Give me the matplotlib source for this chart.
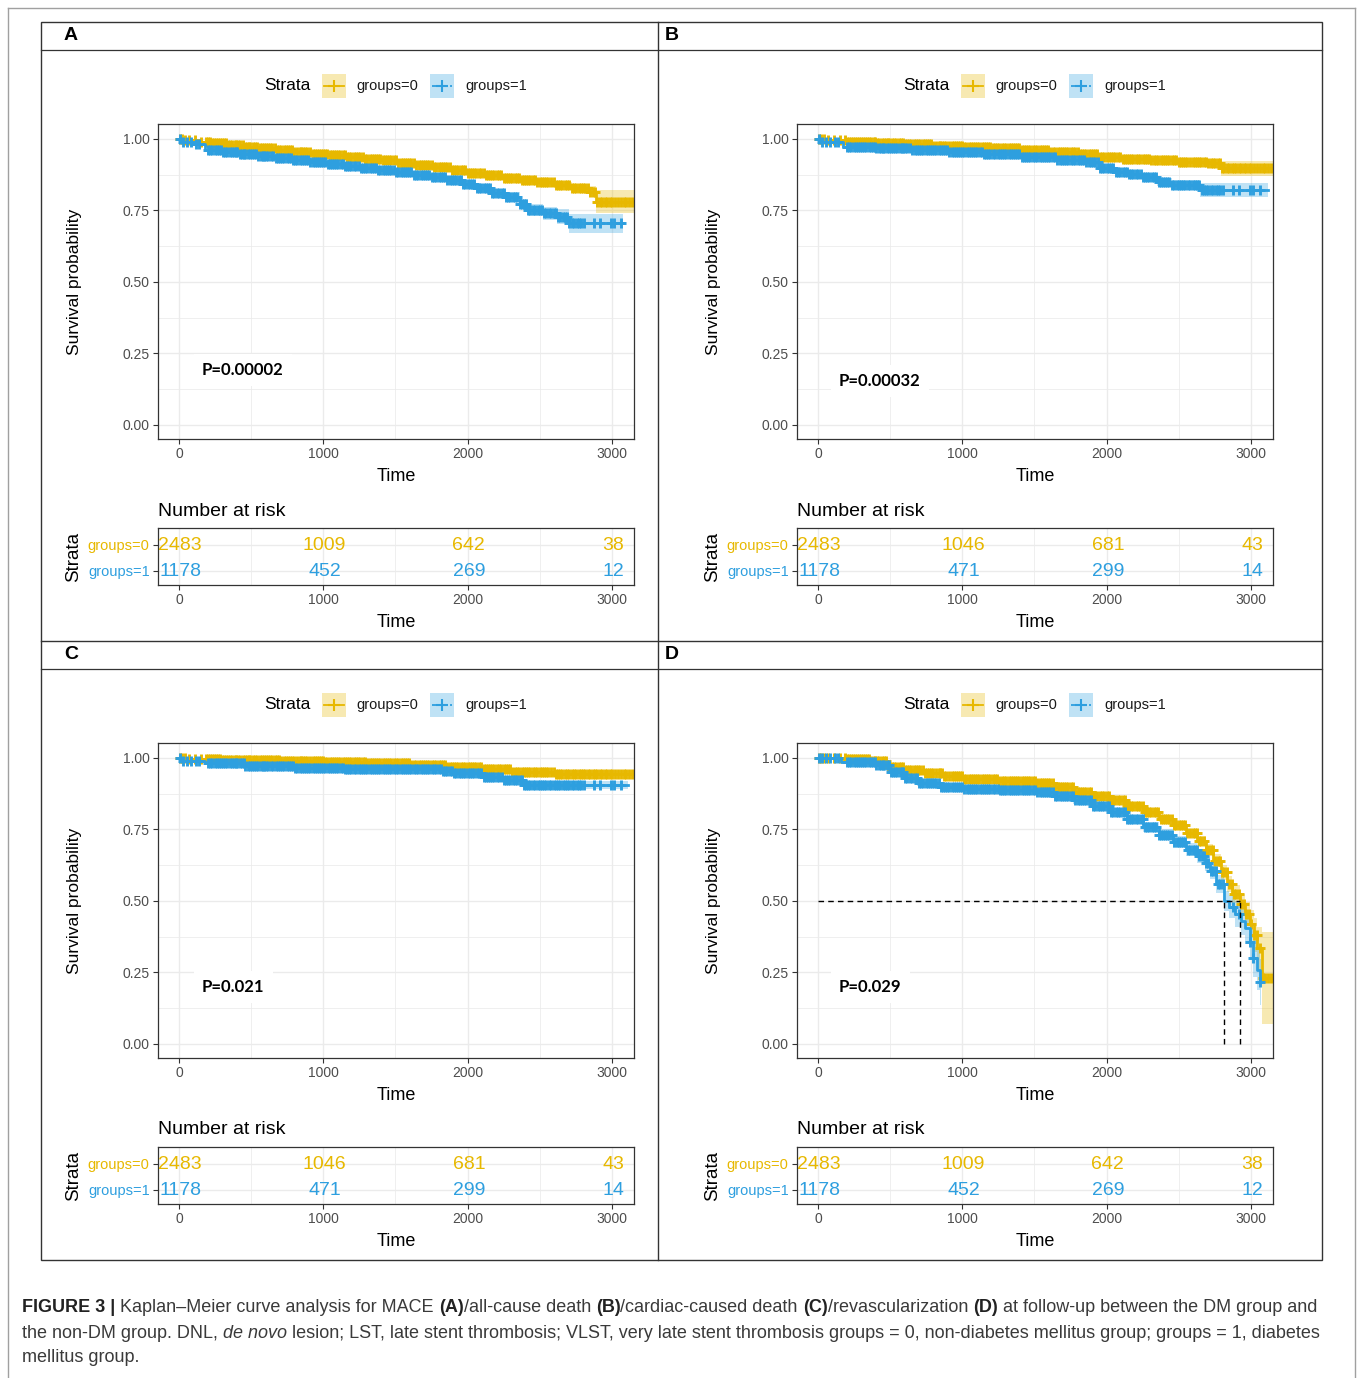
import matplotlib
matplotlib.use("Agg")
import matplotlib.pyplot as plt
import numpy as np
from matplotlib.patches import Rectangle
from matplotlib.lines import Line2D
from matplotlib.ticker import FixedLocator, FuncFormatter

# ------------------------------------------------------------------ data
panels = ["A", "B", "C", "D"]
time_ticks = [0, 1000, 2000, 3000]
surv_ticks = [0.0, 0.25, 0.50, 0.75, 1.00]
group_labels = ["groups=0", "groups=1"]
p_values = {"A": "P=0.00002", "B": "P=0.00032", "C": "P=0.021", "D": "P=0.029"}
p_pos = {"A": (160, 0.192), "B": (146, 0.154), "C": (160, 0.199), "D": (146, 0.199)}

risk_g0 = {"A": [2483, 1009, 642, 38], "B": [2483, 1046, 681, 43],
           "C": [2483, 1046, 681, 43], "D": [2483, 1009, 642, 38]}
risk_g1 = {"A": [1178, 452, 269, 12], "B": [1178, 471, 299, 14],
           "C": [1178, 471, 299, 14], "D": [1178, 452, 269, 12]}

# Kaplan-Meier step curves (time, survival, CI half-width)
A0_t = [0, 40, 120, 220, 330, 450, 560, 680, 800, 920, 1040, 1160, 1280, 1400, 1520, 1640, 1760, 1880,
        2000, 2120, 2240, 2360, 2480, 2600, 2720, 2840, 2890, 3150]
A0_s = [1.0, 0.995, 0.99, 0.985, 0.979, 0.973, 0.967, 0.961, 0.955, 0.949, 0.943, 0.937, 0.931, 0.925,
        0.917, 0.909, 0.901, 0.892, 0.881, 0.873, 0.865, 0.857, 0.849, 0.839, 0.83, 0.816, 0.78, 0.78]
A0_ci = [0, 0.002, 0.003, 0.003, 0.004, 0.004, 0.005, 0.005, 0.005, 0.006, 0.006, 0.006, 0.007, 0.007,
         0.007, 0.008, 0.008, 0.008, 0.009, 0.009, 0.010, 0.010, 0.011, 0.012, 0.014, 0.018, 0.040, 0.045]

A1_t = [0, 30, 100, 180, 300, 420, 540, 660, 780, 900, 1020, 1140, 1260, 1380, 1500, 1620, 1740, 1860,
        1960, 2060, 2160, 2260, 2360, 2420, 2520, 2620, 2700, 3075]
A1_s = [1.0, 0.99, 0.983, 0.962, 0.955, 0.948, 0.941, 0.934, 0.927, 0.921, 0.914, 0.906, 0.899, 0.892,
        0.884, 0.875, 0.866, 0.855, 0.842, 0.828, 0.812, 0.797, 0.772, 0.752, 0.74, 0.728, 0.705, 0.705]
A1_ci = [0, 0.003, 0.004, 0.004, 0.005, 0.005, 0.005, 0.006, 0.006, 0.006, 0.007, 0.007, 0.008, 0.008,
         0.009, 0.009, 0.010, 0.011, 0.012, 0.013, 0.014, 0.016, 0.018, 0.020, 0.023, 0.026, 0.032, 0.045]

B0_t = [0, 60, 200, 400, 600, 800, 1000, 1200, 1400, 1600, 1800, 1950, 2100, 2300, 2500, 2700, 2790, 3150]
B0_s = [1.0, 0.995, 0.991, 0.987, 0.982, 0.977, 0.973, 0.967, 0.96, 0.953, 0.946, 0.938, 0.93, 0.926,
        0.921, 0.915, 0.897, 0.897]
B0_ci = [0, 0.002, 0.002, 0.003, 0.003, 0.003, 0.004, 0.004, 0.005, 0.005, 0.006, 0.006, 0.007, 0.008,
         0.009, 0.012, 0.025, 0.027]

B1_t = [0, 30, 170, 400, 650, 900, 1150, 1400, 1650, 1850, 1950, 2050, 2150, 2250, 2350, 2450, 2650, 3120]
B1_s = [1.0, 0.988, 0.973, 0.967, 0.96, 0.953, 0.946, 0.937, 0.928, 0.918, 0.9, 0.886, 0.876, 0.866,
        0.85, 0.838, 0.822, 0.822]
B1_ci = [0, 0.003, 0.004, 0.004, 0.005, 0.005, 0.006, 0.006, 0.007, 0.008, 0.009, 0.010, 0.011, 0.013,
         0.015, 0.018, 0.025, 0.040]

C0_t = [0, 60, 300, 700, 1000, 1300, 1600, 1850, 2100, 2300, 2600, 3150]
C0_s = [1.0, 0.996, 0.993, 0.99, 0.987, 0.982, 0.977, 0.97, 0.96, 0.95, 0.945, 0.945]
C0_ci = [0, 0.001, 0.002, 0.002, 0.003, 0.003, 0.004, 0.005, 0.005, 0.006, 0.008, 0.017]

C1_t = [0, 30, 180, 450, 800, 1150, 1500, 1820, 1900, 2100, 2250, 2380, 3110]
C1_s = [1.0, 0.99, 0.981, 0.972, 0.964, 0.962, 0.96, 0.955, 0.946, 0.935, 0.922, 0.906, 0.906]
C1_ci = [0, 0.003, 0.004, 0.005, 0.005, 0.006, 0.006, 0.007, 0.008, 0.009, 0.011, 0.014, 0.020]

D0_t = [0, 200, 360, 478, 600, 728, 870, 1005, 1250, 1516, 1640, 1767, 1900, 2023, 2140, 2252, 2360,
        2460, 2550, 2627, 2690, 2738, 2790, 2834, 2870, 2925, 2960, 2990, 3020, 3045, 3077, 3153]
D0_s = [1.0, 0.996, 0.99, 0.97, 0.958, 0.946, 0.936, 0.928, 0.92, 0.911, 0.897, 0.881, 0.866, 0.852,
        0.832, 0.811, 0.787, 0.764, 0.738, 0.711, 0.68, 0.641, 0.6, 0.56, 0.525, 0.49, 0.455, 0.42,
        0.38, 0.335, 0.23, 0.23]
D0_ci = [0, 0.001, 0.002, 0.004, 0.004, 0.005, 0.005, 0.006, 0.006, 0.007, 0.007, 0.008, 0.008, 0.009,
         0.010, 0.011, 0.012, 0.013, 0.015, 0.017, 0.019, 0.022, 0.025, 0.028, 0.032, 0.036, 0.042,
         0.05, 0.06, 0.075, 0.16, 0.16]

D1_t = [0, 160, 400, 499, 600, 686, 850, 1005, 1250, 1516, 1640, 1767, 1900, 2023, 2140, 2252, 2360,
        2460, 2550, 2627, 2680, 2717, 2760, 2814, 2850, 2890, 2930, 2960, 2990, 3015, 3040, 3063, 3070]
D1_s = [1.0, 0.985, 0.975, 0.952, 0.93, 0.911, 0.9, 0.893, 0.887, 0.881, 0.866, 0.852, 0.832, 0.811,
        0.785, 0.758, 0.732, 0.705, 0.68, 0.658, 0.632, 0.606, 0.56, 0.5, 0.48, 0.455, 0.43, 0.406,
        0.355, 0.30, 0.26, 0.218, 0.218]
D1_ci = [0, 0.003, 0.005, 0.007, 0.008, 0.009, 0.009, 0.010, 0.010, 0.011, 0.012, 0.013, 0.014, 0.015,
         0.016, 0.018, 0.019, 0.021, 0.023, 0.025, 0.027, 0.029, 0.032, 0.036, 0.04, 0.045, 0.05,
         0.055, 0.06, 0.065, 0.07, 0.08, 0.08]

curves = {
    "A": [(A0_t, A0_s, A0_ci), (A1_t, A1_s, A1_ci)],
    "B": [(B0_t, B0_s, B0_ci), (B1_t, B1_s, B1_ci)],
    "C": [(C0_t, C0_s, C0_ci), (C1_t, C1_s, C1_ci)],
    "D": [(D0_t, D0_s, D0_ci), (D1_t, D1_s, D1_ci)],
}

# censoring times (read as dense "+" marks along the curves)
cens0 = [5, 20, 45, 70, 110, 150, 185, 200, 215, 228, 240, 255, 270, 285, 300, 312, 325, 340, 355, 370,
         385, 398, 410, 425, 440, 455, 470, 483, 495, 510, 525, 543, 560, 575, 590, 603, 615, 630, 645,
         662, 680, 695, 710, 725, 740, 755, 770, 785, 800, 818, 835, 848, 860, 875, 890, 908, 925, 940,
         955, 970, 985, 998, 1010, 1028, 1045, 1060, 1075, 1088, 1100, 1118, 1135, 1150, 1165, 1180,
         1195, 1210, 1225, 1240, 1255, 1272, 1290, 1305, 1320, 1335, 1350, 1365, 1380, 1395, 1410, 1425,
         1440, 1455, 1470, 1488, 1505, 1520, 1535, 1550, 1565, 1580, 1595, 1610, 1625, 1642, 1660, 1675,
         1690, 1705, 1720, 1735, 1750, 1765, 1780, 1798, 1815, 1830, 1845, 1860, 1875, 1890, 1905, 1920,
         1935, 1952, 1970, 1985, 2000, 2015, 2030, 2045, 2060, 2078, 2095, 2110, 2125, 2140, 2155, 2170,
         2185, 2200, 2215, 2232, 2250, 2265, 2280, 2295, 2310, 2325, 2340, 2358, 2375, 2390, 2405, 2420,
         2435, 2450, 2465, 2482, 2500, 2515, 2530, 2545, 2560, 2578, 2595, 2610, 2625, 2640, 2655, 2672,
         2690, 2705, 2720, 2735, 2750, 2768, 2785, 2800, 2815, 2832, 2850, 2865, 2880, 2898, 2915, 2932,
         2950, 2968, 2985, 3002, 3020, 3040, 3060, 3080, 3100, 3120, 3140]
cens1 = [10, 30, 55, 85, 120, 140, 200, 215, 230, 248, 265, 278, 290, 305, 320, 335, 350, 365, 380, 392,
         405, 420, 435, 448, 460, 475, 490, 505, 520, 535, 550, 565, 580, 592, 605, 620, 635, 652, 670,
         685, 700, 715, 730, 745, 760, 775, 790, 805, 820, 835, 850, 865, 880, 895, 910, 925, 940, 955,
         970, 985, 1000, 1015, 1030, 1045, 1060, 1075, 1090, 1105, 1120, 1135, 1150, 1165, 1180, 1195,
         1210, 1228, 1245, 1260, 1275, 1290, 1305, 1320, 1335, 1350, 1365, 1380, 1395, 1410, 1425, 1440,
         1455, 1472, 1490, 1505, 1520, 1535, 1550, 1565, 1580, 1595, 1610, 1625, 1640, 1658, 1675, 1690,
         1705, 1720, 1735, 1750, 1765, 1782, 1800, 1815, 1830, 1845, 1860, 1875, 1890, 1905, 1920, 1938,
         1955, 1970, 1985, 2000, 2015, 2030, 2045, 2062, 2080, 2095, 2110, 2125, 2140, 2155, 2170, 2185,
         2200, 2218, 2235, 2250, 2265, 2280, 2295, 2312, 2330, 2345, 2360, 2375, 2390, 2405, 2420, 2435,
         2450, 2468, 2485, 2500, 2515, 2530, 2545, 2562, 2580, 2595, 2610, 2625, 2640, 2658, 2675, 2690,
         2705, 2722, 2740, 2755, 2770, 2788, 2807, 2876, 2920, 2990, 3015, 3063]
censors = [cens0, cens1]

# ------------------------------------------------------------------ style
W, H = 1357, 1378
plt.rcParams["font.family"] = ["Liberation Sans", "DejaVu Sans"]
COL = ["#E7B800", "#2E9FDF"]
DARK = "#333333"
TICKC = "#4D4D4D"
GRID = "#EBEBEB"

fig = plt.figure(figsize=(W / 100, H / 100), dpi=100)


def fx(x):
    return x / W


def fy(y):
    return 1 - y / H


def px_axes(x0, y0, x1, y1):
    return fig.add_axes([x0 / W, 1 - y1 / H, (x1 - x0) / W, (y1 - y0) / H])


def fig_line(xs, ys, **kw):
    fig.add_artist(Line2D([fx(x) for x in xs], [fy(y) for y in ys], transform=fig.transFigure, **kw))


# outer page frame
fig_line([8, 8], [1378, 8], color="#A0A0A0", lw=1.0)
fig_line([8, 1355], [8, 8], color="#A0A0A0", lw=1.0)
fig_line([1355, 1355], [8, 1378], color="#A0A0A0", lw=1.0)

# panel grid frame
fig.add_artist(Rectangle((fx(41), fy(1260)), (1322 - 41) / W, (1260 - 22) / H, transform=fig.transFigure,
                         fill=False, edgecolor=DARK, lw=1.0))
fig_line([658, 658], [22, 1260], color=DARK, lw=1.0)
fig_line([41, 1322], [641, 641], color=DARK, lw=1.0)
fig_line([41, 1322], [50, 50], color=DARK, lw=0.9)
fig_line([41, 1322], [669, 669], color=DARK, lw=0.9)

offsets = {"A": (0, 0), "B": (639, 0), "C": (0, 619), "D": (639, 619)}
letter_x = {"A": 64, "B": 665, "C": 64, "D": 665}
XLIM = (-145.5, 3152.5)
YLIM = (-0.049, 1.0524)


def step_value(t, s, x):
    idx = np.searchsorted(np.asarray(t), x, side="right") - 1
    return np.asarray(s)[idx]


def style_axes(ax):
    ax.set_facecolor("white")
    for sp in ax.spines.values():
        sp.set_color(DARK)
        sp.set_linewidth(0.9)
    ax.tick_params(axis="both", which="major", length=3.5, width=0.8, color=DARK,
                   labelcolor=TICKC, labelsize=10, pad=2.5)
    ax.tick_params(axis="both", which="minor", length=0)
    ax.grid(True, which="major", color=GRID, lw=1.0)
    ax.grid(True, which="minor", color=GRID, lw=0.55)
    ax.set_axisbelow(True)


for p in panels:
    dx, dy = offsets[p]
    # panel letter
    fig.text(fx(letter_x[p]), fy(36 + dy), p, fontsize=14, fontweight="bold", va="center", ha="left")

    # ---- legend
    fig.text(fx(287 + dx), fy(86 + dy), "Strata", fontsize=12.5, ha="center", va="center")
    for g, (kx, tx) in enumerate([(322, 356), (430, 465)]):
        fig.add_artist(Rectangle((fx(kx + dx), fy(98 + dy)), 24 / W, 24 / H, transform=fig.transFigure,
                                 facecolor=COL[g], alpha=0.3, edgecolor="none"))
        ls = "-" if g == 0 else (0, (3, 2))
        fig.add_artist(Line2D([fx(kx + 2 + dx), fx(kx + 22 + dx)], [fy(86 + dy)] * 2, transform=fig.transFigure,
                              color=COL[g], lw=1.3, ls=ls))
        fig.add_artist(Line2D([fx(kx + 12 + dx)], [fy(86 + dy)], transform=fig.transFigure, color=COL[g],
                              marker="+", markersize=8, mew=1.5, ls="none"))
        fig.text(fx(tx + dx), fy(86 + dy), group_labels[g], fontsize=10.5, ha="left", va="center", color="#1a1a1a")

    # ---- survival plot
    ax = px_axes(158 + dx, 124 + dy, 634 + dx, 439 + dy)
    style_axes(ax)
    ax.set_xlim(*XLIM)
    ax.set_ylim(*YLIM)
    ax.xaxis.set_major_locator(FixedLocator(time_ticks))
    ax.xaxis.set_minor_locator(FixedLocator([500, 1500, 2500]))
    ax.yaxis.set_major_locator(FixedLocator(surv_ticks))
    ax.yaxis.set_minor_locator(FixedLocator([0.125, 0.375, 0.625, 0.875]))
    ax.yaxis.set_major_formatter(FuncFormatter(lambda v, pos: f"{v:.2f}"))
    ax.set_xlabel("Time", fontsize=13, labelpad=4.5)
    ax.set_ylabel("Survival probability", fontsize=12.5)
    ax.yaxis.set_label_coords(-0.16, 0.5)

    for g, (t, s, ci) in enumerate(curves[p]):
        t = np.asarray(t, float)
        s = np.asarray(s, float)
        ci = np.asarray(ci, float)
        ax.fill_between(t, s - ci, np.minimum(s + ci, 1.0), step="post", color=COL[g], alpha=0.3, lw=0)
    for g, (t, s, ci) in enumerate(curves[p]):
        ax.step(t, s, where="post", color=COL[g], lw=2.0)
        c = np.asarray([v for v in censors[g] if v <= t[-1]], float)
        ax.plot(c, step_value(t, s, c), ls="none", marker="+", color=COL[g], markersize=7, mew=2.1)

    if p == "D":
        meds = []
        for (t, s, ci) in curves[p]:
            s_arr = np.asarray(s)
            meds.append(np.asarray(t)[np.argmax(s_arr <= 0.5)])
        ax.plot([0, max(meds)], [0.5, 0.5], ls=(0, (4, 3)), color="black", lw=1.0)
        for m in meds:
            ax.plot([m, m], [0, 0.5], ls=(0, (4, 3)), color="black", lw=1.0)

    px_, py_ = p_pos[p]
    ax.text(px_, py_, p_values[p], fontsize=12, fontweight="bold", family=["Lato", "DejaVu Sans"],
            ha="left", va="center", bbox=dict(facecolor="white", edgecolor="none", pad=6))

    # ---- risk table
    rt = px_axes(158 + dx, 528 + dy, 634 + dx, 585 + dy)
    style_axes(rt)
    rt.set_xlim(*XLIM)
    rt.set_ylim(0.46, 2.65)
    rt.xaxis.set_major_locator(FixedLocator(time_ticks))
    rt.xaxis.set_minor_locator(FixedLocator([500, 1500, 2500]))
    rt.yaxis.set_major_locator(FixedLocator([2, 1]))
    rt.set_yticklabels(group_labels)
    for lab, col in zip(rt.get_yticklabels(), COL):
        lab.set_color(col)
        lab.set_fontsize(10.5)
    rt.set_xlabel("Time", fontsize=13, labelpad=4.5)
    rt.set_ylabel("Strata", fontsize=13.5)
    rt.yaxis.set_label_coords(-0.16, 0.5)
    rt.text(0, 1 + 17 / 57, "Number at risk", transform=rt.transAxes, fontsize=14, ha="left", va="center")
    for tt, n0, n1 in zip(time_ticks, risk_g0[p], risk_g1[p]):
        rt.text(tt + 8, 1.96, str(n0), color=COL[0], fontsize=14, ha="center", va="center")
        rt.text(tt + 8, 0.96, str(n1), color=COL[1], fontsize=14, ha="center", va="center")

# ------------------------------------------------------------------ caption
renderer = fig.canvas.get_renderer()
cap_lines = [
    [("FIGURE 3 | ", "bold", "normal"), ("Kaplan–Meier curve analysis for MACE ", "normal", "normal"),
     ("(A)", "bold", "normal"), ("/all-cause death ", "normal", "normal"), ("(B)", "bold", "normal"),
     ("/cardiac-caused death ", "normal", "normal"), ("(C)", "bold", "normal"),
     ("/revascularization ", "normal", "normal"), ("(D)", "bold", "normal"),
     (" at follow-up between the DM group and", "normal", "normal")],
    [("the non-DM group. DNL, ", "normal", "normal"), ("de novo", "normal", "italic"),
     (" lesion; LST, late stent thrombosis; VLST, very late stent thrombosis groups = 0, non-diabetes mellitus group; groups = 1, diabetes",
      "normal", "normal")],
    [("mellitus group.", "normal", "normal")],
]
cap_y = [1307, 1333, 1358]
CAPSIZE = 13.0
for line, yy in zip(cap_lines, cap_y):
    x = 22
    for txt, wt, st in line:
        t = fig.text(fx(x), fy(yy), txt, fontsize=CAPSIZE, fontweight=wt, fontstyle=st,
                     color="#222222" if wt == "bold" else "#3a3a3a", ha="left", va="center")
        bb = t.get_window_extent(renderer=renderer)
        x += bb.width

fig.savefig("out.png", dpi=100)
